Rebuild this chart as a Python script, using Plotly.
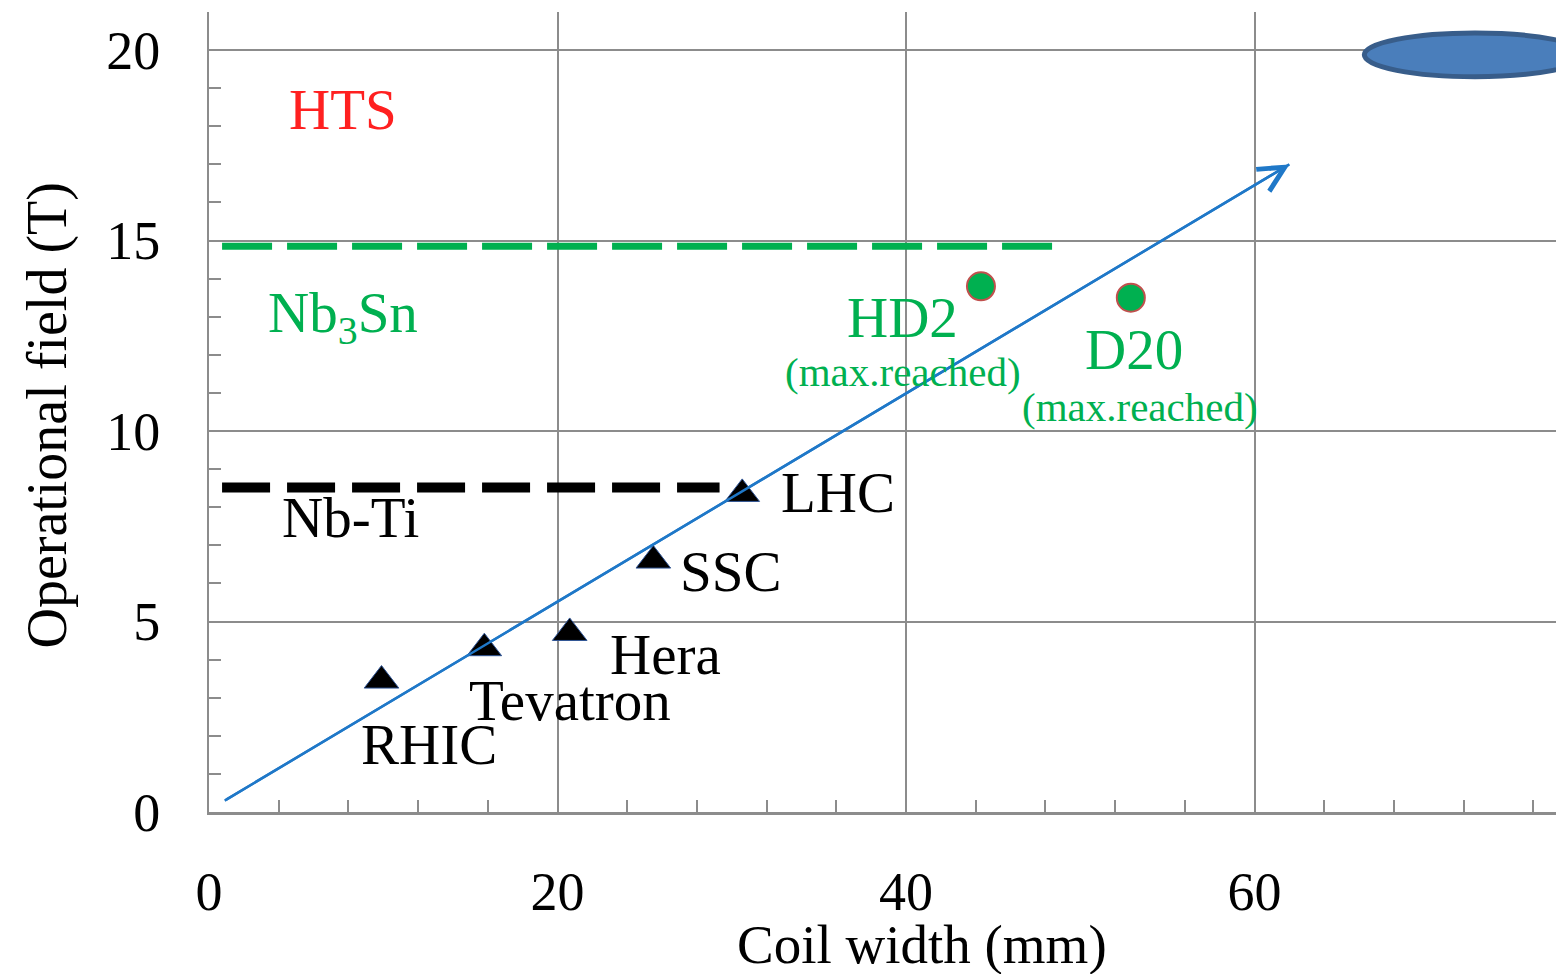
import plotly.graph_objects as go

# ---- data ----
magnet_names = ["RHIC", "Tevatron", "Hera", "SSC", "LHC"]
magnet_width_mm = [9.9, 15.8, 20.7, 25.5, 30.6]
magnet_field_T = [3.45, 4.3, 4.7, 6.6, 8.35]

nb3sn_names = ["HD2", "D20"]
nb3sn_width_mm = [44.3, 52.9]
nb3sn_field_T = [13.8, 13.5]

trend_width_mm = [0.9, 62.0]
trend_field_T = [0.3, 17.0]

nbti_limit_x = [0.75, 29.3]
nbti_limit_T = [8.52, 8.52]
nb3sn_limit_x = [0.75, 48.4]
nb3sn_limit_T = [14.85, 14.85]

x_ticks = [0, 20, 40, 60]
y_ticks = [0, 5, 10, 15, 20]

FONT = "Liberation Serif"
GREEN = "#00B050"
BLUE = "#1F78C8"
GRID = "#8C8C8C"

fig = go.Figure()

# limit lines
fig.add_trace(go.Scatter(x=nb3sn_limit_x, y=nb3sn_limit_T, mode="lines",
                         line=dict(color=GREEN, width=7, dash="50px,15px"),
                         hoverinfo="skip", showlegend=False))
fig.add_trace(go.Scatter(x=nbti_limit_x, y=nbti_limit_T, mode="lines",
                         line=dict(color="black", width=10, dash="48px,17px"),
                         hoverinfo="skip", showlegend=False))

# trend line with open arrow head
fig.add_trace(go.Scatter(x=trend_width_mm, y=trend_field_T, mode="lines",
                         line=dict(color=BLUE, width=2.5),
                         hoverinfo="skip", showlegend=False))
fig.add_annotation(x=trend_width_mm[1], y=trend_field_T[1],
                   ax=trend_width_mm[0], ay=trend_field_T[0],
                   xref="x", yref="y", axref="x", ayref="y",
                   text="", showarrow=True, arrowhead=5, arrowsize=2.0,
                   arrowwidth=2.5, arrowcolor=BLUE)

# magnets (Nb-Ti)
fig.add_trace(go.Scatter(x=magnet_width_mm, y=magnet_field_T, mode="markers",
                         marker=dict(symbol="triangle-up", size=30, color="black",
                                     line=dict(color="#2F5597", width=1)),
                         text=magnet_names, showlegend=False))
# Nb3Sn records
fig.add_trace(go.Scatter(x=nb3sn_width_mm, y=nb3sn_field_T, mode="markers",
                         marker=dict(symbol="circle", size=28, color=GREEN,
                                     line=dict(color="#C0504D", width=2)),
                         text=nb3sn_names, showlegend=False))

# ellipse (HTS target), clipped at the right edge
fig.add_shape(type="circle", xref="x", yref="y", x0=66.3, x1=79.0, y0=19.3, y1=20.45,
              fillcolor="#4A7EBB", line=dict(color="#385D8A", width=5), layer="above")

# text labels
label_items = [
    ("HTS", 7.7, 18.45, "#FF2020", 57),
    ("Nb<sub>3</sub>Sn", 7.7, 13.0, GREEN, 57),
    ("Nb-Ti", 8.1, 7.73, "black", 57),
    ("LHC", 36.1, 8.38, "black", 57),
    ("SSC", 29.9, 6.31, "black", 57),
    ("Hera", 26.2, 4.13, "black", 57),
    ("Tevatron", 20.7, 2.94, "black", 57),
    ("RHIC", 12.6, 1.76, "black", 57),
    ("HD2", 39.8, 12.98, GREEN, 57),
    ("(max.reached)", 39.8, 11.56, GREEN, 41),
    ("D20", 53.1, 12.14, GREEN, 57),
    ("(max.reached)", 53.4, 10.64, GREEN, 41),
]
for txt, lx, ly, col, sz in label_items:
    fig.add_annotation(x=lx, y=ly, xref="x", yref="y", text=txt, showarrow=False,
                       font=dict(family=FONT, size=sz, color=col),
                       xanchor="center", yanchor="middle")

# axis titles
fig.add_annotation(x=0.529, y=-0.166, xref="paper", yref="paper",
                   text="Coil width (mm)", showarrow=False,
                   font=dict(family=FONT, size=55, color="black"),
                   xanchor="center", yanchor="middle")
fig.add_annotation(x=-0.120, y=0.496, xref="paper", yref="paper",
                   text="Operational field (T)", showarrow=False, textangle=-90,
                   font=dict(family=FONT, size=56, color="black"),
                   xanchor="center", yanchor="middle")

fig.update_layout(
    width=1556, height=974,
    margin=dict(l=209, r=0, t=12, b=162),
    paper_bgcolor="white", plot_bgcolor="white",
    font=dict(family=FONT, size=54, color="black"),
)
fig.update_xaxes(range=[0, 77.3], tickvals=x_ticks, ticktext=[str(v) for v in x_ticks],
                 automargin=False,
                 showgrid=True, gridcolor=GRID, gridwidth=2,
                 showline=True, linecolor=GRID, linewidth=3,
                 ticks="inside", ticklen=12, tickcolor=GRID, tickwidth=2,
                 minor=dict(dtick=4, ticks="inside", ticklen=12, tickcolor=GRID, tickwidth=2, showgrid=False),
                 zeroline=False, ticklabelstandoff=30,
                 tickfont=dict(family=FONT, size=54))
fig.update_yaxes(range=[0, 21], tickvals=y_ticks, ticktext=[str(v) for v in y_ticks],
                 automargin=False,
                 showgrid=True, gridcolor=GRID, gridwidth=2,
                 showline=True, linecolor=GRID, linewidth=2,
                 ticks="inside", ticklen=12, tickcolor=GRID, tickwidth=2,
                 minor=dict(dtick=1, ticks="inside", ticklen=12, tickcolor=GRID, tickwidth=2, showgrid=False),
                 zeroline=False, ticklabelstandoff=36,
                 tickfont=dict(family=FONT, size=54))

fig.write_html("out.html", config={"displayModeBar": False},
               post_script="document.body.style.margin='0px';document.body.style.overflow='hidden';")
